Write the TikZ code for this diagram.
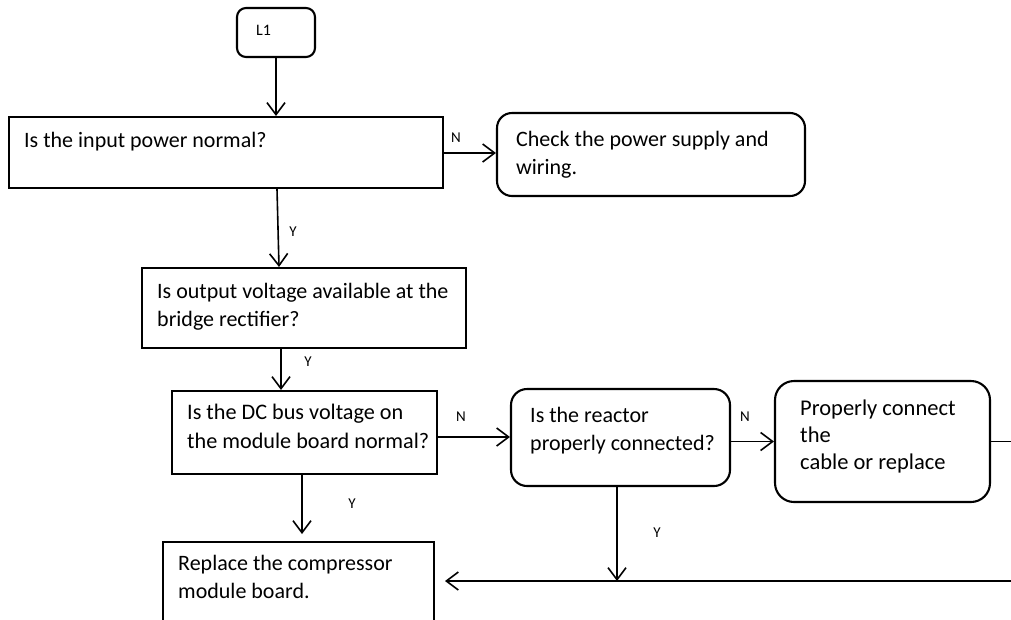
\documentclass[tikz,border=0pt]{standalone}
\usepackage{fontspec}
\setmainfont{Carlito}
\usetikzlibrary{arrows.meta}
\begin{document}
\begin{tikzpicture}[x=1pt,y=-1pt,
  box/.style={draw, line width=2.1pt, inner sep=0pt},
  rbox/.style={box, rounded corners=#1},
  txt/.style={inner sep=0pt, anchor=base west, align=left, font=\fontsize{22}{27.5}\selectfont},
  yn/.style={inner sep=0pt, font=\fontsize{15}{17}\selectfont},
  arr/.style={line width=1.6pt, -{Straight Barb[length=12pt,width=18pt]}}]
\useasboundingbox (0,0) rectangle (1011,619);
\clip (0,0) rectangle (1011,619);
% boxes
\node[rbox=9pt, minimum width=78pt, minimum height=49pt] (l1) at (276,32.5) {};
\node[box, minimum width=434pt, minimum height=71pt] (input) at (226,152.5) {};
\node[rbox=15pt, minimum width=308pt, minimum height=83pt] (check) at (651,154.5) {};
\node[box, minimum width=324pt, minimum height=80pt] (output) at (304,308) {};
\node[box, minimum width=265pt, minimum height=83pt] (dc) at (304.5,432.5) {};
\node[rbox=16pt, minimum width=219pt, minimum height=97pt] (reactor) at (620.5,437.5) {};
\node[rbox=19pt, minimum width=215pt, minimum height=121pt] (prop) at (882.5,441.5) {};
\node[box, minimum width=271pt, minimum height=116pt] (replace) at (298.5,600) {};
% texts (anchored at the baseline of the last line)
\node[txt, font=\fontsize{16}{18}\selectfont] (tl1) at (256,35) {L1};
\node[txt] (tinput) at (24,147.5) {Is the input power normal?};
\node[txt] (tcheck) at (516,174) {Check the power supply and\\wiring.};
\node[txt] (toutput) at (157,326) {Is output voltage available at the\\bridge rectifier?};
\node[txt, font=\fontsize{22.2}{29}\selectfont] (tdc) at (187,448) {Is the DC bus voltage on\\the module board normal?};
\node[txt] (treactor) at (530,450) {Is the reactor\\properly connected?};
\node[txt, font=\fontsize{22.5}{27}\selectfont] (tprop) at (800,469) {Properly connect\\the\\cable or replace};
\node[txt] (treplace) at (178,598) {Replace the compressor\\module board.};
% Y/N labels
\node[yn] (n1) at (456,138) {N};
\node[yn] (y1) at (293,232) {Y};
\node[yn] (y2) at (308,362) {Y};
\node[yn] (n2) at (461,417) {N};
\node[yn] (n3) at (745,417) {N};
\node[yn] (y3) at (352,504) {Y};
\node[yn] (y4) at (657,533) {Y};
% helper coordinates
\coordinate (eT) at (1030,441.5);
\coordinate (rArr) at (445,581);
\coordinate (junc) at (617,581);
\coordinate (dcY) at (302,534);
% connectors
\draw[arr] (l1.south) -- (l1.south |- input.north);
\draw[arr] ([yshift=-0.5pt]input.east) -- ([yshift=-0.5pt]input.east -| check.west);
\draw[arr] ([xshift=51pt]input.south) -- ([xshift=-25pt]output.north);
\draw[arr] ([xshift=-23pt]output.south) -- ([xshift=-23.5pt]dc.north);
\draw[arr] ([yshift=-4.5pt]dc.east) -- ([yshift=-4.5pt]dc.east -| reactor.west);
\draw[arr] (reactor.east |- prop.west) -- (prop.west);
\draw[arr] ([xshift=-3.5pt]reactor.south) -- (junc);
\draw[arr] ([xshift=-2.5pt]dc.south) -- (dcY);
\draw[arr] (prop.east) -- (eT) |- (rArr);
\end{tikzpicture}
\end{document}
